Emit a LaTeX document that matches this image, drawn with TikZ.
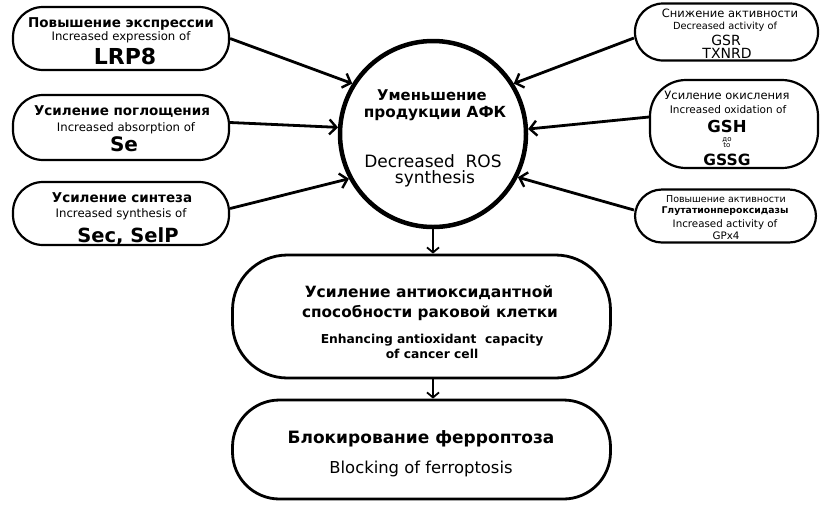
\documentclass[tikz,border=0pt]{standalone}
\usepackage{fontspec}
\setmainfont{DejaVu Sans}
\usetikzlibrary{arrows.meta}
\newcommand{\fs}[1]{\fontsize{#1}{#1}\selectfont}
\tikzset{
  sbox/.style={draw, line width=2.2pt, rounded corners=#1, inner sep=0pt},
  txt/.style={anchor=base, inner sep=0pt},
  sidearrow/.style={line width=2.8pt, -{Straight Barb[length=7pt,width=15pt,line width=2.4pt]}},
  downarrow/.style={line width=1.8pt, -{Straight Barb[length=5pt,width=12pt,line width=1.8pt]}},
}
\begin{document}
\begin{tikzpicture}[x=1pt,y=-1pt]
\useasboundingbox (0,0) rectangle (826,507);
% left boxes
\node[sbox=30pt, minimum width=216pt, minimum height=63pt] (b1) at (121,38.5) {};
\node[sbox=30pt, minimum width=216pt, minimum height=65pt] (b2) at (121,127.5) {};
\node[sbox=30pt, minimum width=216pt, minimum height=63pt] (b3) at (121,213.5) {};
% right boxes
\node[sbox=28pt, minimum width=183pt, minimum height=57pt] (r1) at (726.5,32) {};
\node[sbox=36pt, minimum width=168pt, minimum height=88pt] (r2) at (734,124) {};
\node[sbox=27pt, minimum width=181pt, minimum height=53pt] (r3) at (725.5,216) {};
% circle
\node[draw, circle, line width=4.5pt, minimum size=186pt, inner sep=0pt] (c) at (433,134) {};
% middle and bottom
\node[sbox=55pt, line width=2.8pt, minimum width=378pt, minimum height=123pt] (m) at (421.5,316.5) {};
\node[sbox=47pt, line width=2.8pt, minimum width=378pt, minimum height=99pt] (f) at (421.5,449.5) {};

% texts left
\node[txt, font=\fs{13.5}\bfseries] (t1a) at (121,27) {Повышение экспрессии};
\node[txt, font=\fs{11.7}] (t1b) at (121,40) {Increased expression of};
\node[txt, font=\fs{22}\bfseries] (t1c) at (125,64) {LRP8};
\node[txt, font=\fs{13.5}\bfseries] (t2a) at (122,115) {Усиление поглощения};
\node[txt, font=\fs{11.7}] (t2b) at (126,131) {Increased absorption of};
\node[txt, font=\fs{20}\bfseries] (t2c) at (124,151) {Se};
\node[txt, font=\fs{13.5}\bfseries] (t3a) at (122,202) {Усиление синтеза};
\node[txt, font=\fs{11.7}] (t3b) at (121,217) {Increased synthesis of};
\node[txt, font=\fs{19.5}\bfseries] (t3c) at (128,242) {Sec, SelP};
% texts right
\node[txt, font=\fs{11.5}] (u1a) at (730,17) {Снижение активности};
\node[txt, font=\fs{9.8}] (u1b) at (725,29) {Decreased activity of};
\node[txt, font=\fs{14}] (u1c) at (726,45) {GSR};
\node[txt, font=\fs{14}] (u1d) at (727,58) {TXNRD};
\node[txt, font=\fs{11.5}] (u2a) at (727,99) {Усиление окисления};
\node[txt, font=\fs{10.5}] (u2b) at (728,113) {Increased oxidation of};
\node[txt, font=\fs{16.5}\bfseries] (u2c) at (727,132) {GSH};
\node[txt, font=\fs{7}] (u2d) at (727,141) {до};
\node[txt, font=\fs{7}] (u2e) at (727,147) {to};
\node[txt, font=\fs{15.5}\bfseries] (u2f) at (727,165) {GSSG};
\node[txt, font=\fs{9.5}] (u3a) at (726,202) {Повышение активности};
\node[txt, font=\fs{9.3}\bfseries] (u3b) at (725,213) {Глутатионпероксидазы};
\node[txt, font=\fs{10.3}] (u3c) at (725,227) {Increased activity of};
\node[txt, font=\fs{10.3}] (u3d) at (726,239) {GPx4};
% circle text
\node[txt, font=\fs{14.8}\bfseries] (ca) at (432,100) {Уменьшение};
\node[txt, font=\fs{15.3}\bfseries] (cb) at (435,117) {продукции АФК};
\node[txt, font=\fs{17}] (cc) at (433,167) {Decreased\ \ ROS};
\node[txt, font=\fs{17}] (cd) at (435,183) {synthesis};
% middle text
\node[txt, font=\fs{15.5}\bfseries] (ma) at (429,297) {Усиление антиоксидантной};
\node[txt, font=\fs{15.3}\bfseries] (mb) at (430,317) {способности раковой клетки};
\node[txt, font=\fs{12.3}\bfseries] (mc) at (432,343) {Enhancing antioxidant\ \ capacity};
\node[txt, font=\fs{12.3}\bfseries] (md) at (432,358) {of cancer cell};
% bottom text
\node[txt, font=\fs{17}\bfseries] (fa) at (421,443) {Блокирование ферроптоза};
\node[txt, font=\fs{16.4}] (fb) at (421,473) {Blocking of ferroptosis};

% arrows
\draw[sidearrow] (b1.east) -- (c.148);
\draw[sidearrow] ([yshift=5pt]b2.east) -- (c.176);
\draw[sidearrow] ([yshift=5pt]b3.east) -- (c.208);
\draw[sidearrow] ([yshift=-6pt]r1.west) -- (c.32);
\draw[sidearrow] ([yshift=7pt]r2.west) -- (c.3);
\draw[sidearrow] ([yshift=6pt]r3.west) -- (c.333);
\draw[downarrow] (c.south) -- (c.south |- m.north);
\draw[downarrow] (c.south |- m.south) -- (c.south |- f.north);
\end{tikzpicture}
\end{document}
